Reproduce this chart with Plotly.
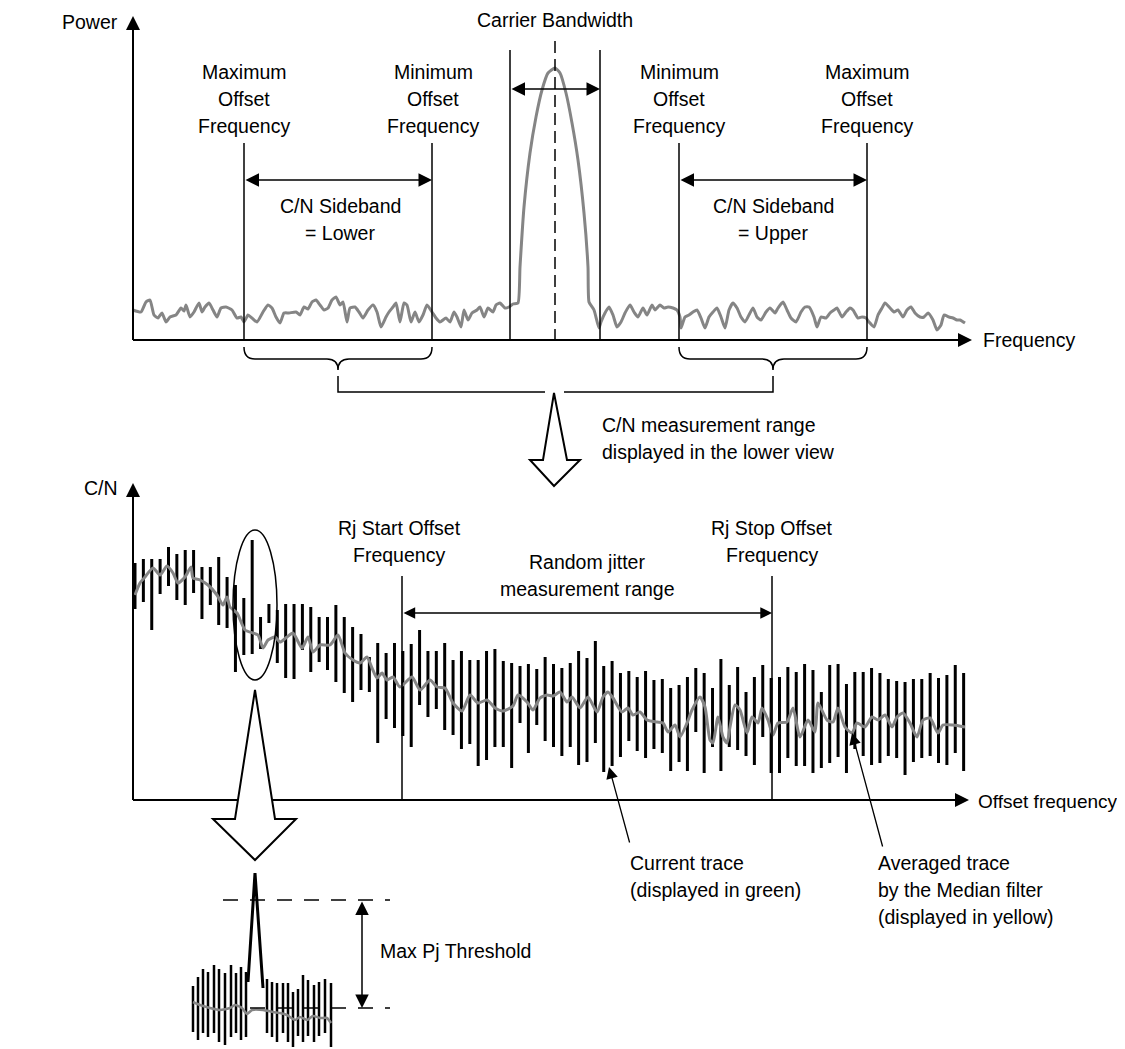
import plotly.graph_objects as go

# ---- data (x in canvas px, levels = height above each baseline) ----
# upper view: noise floor left of carrier, carrier peak, noise floor right of carrier
noise_lo_x = [133, 141, 146, 150, 154, 158, 162, 166, 170, 176, 181, 184, 186, 190, 194, 199, 202, 205, 209, 213,
              217, 221, 226, 232, 237, 241, 244,
              248, 252, 257, 263, 268, 272, 276, 280, 284, 289, 296, 300, 304, 308, 312, 316, 320, 324, 328, 332,
              336, 340, 343, 347, 350, 355, 359, 363, 368, 373, 377, 381, 386, 389, 393, 396, 400, 404, 407, 411,
              415, 419, 423, 427, 432,
              436, 440, 446, 450, 454, 457, 461, 464, 468, 472, 477, 480, 484, 488, 493, 496, 500, 505]
noise_lo_h = [30, 28, 38, 40, 25, 22, 27, 18, 23, 25, 32, 29, 35, 23, 28, 37, 28, 33, 37, 30,
              23, 32, 33, 30, 22, 23, 18,
              25, 22, 18, 28, 35, 32, 23, 17, 27, 27, 28, 25, 33, 31, 38, 40, 35, 30, 32, 40,
              43, 35, 38, 18, 32, 33, 28, 22, 30, 35, 28, 13, 23, 28, 33, 37, 18, 37, 35, 18,
              28, 18, 25, 35, 28,
              22, 18, 22, 18, 28, 23, 13, 30, 20, 27, 30, 33, 23, 32, 28, 35, 37, 32]
carrier_x = [509, 513, 518, 520, 524, 530, 536, 542, 548, 555, 560, 566, 572, 578, 584, 588, 589, 594, 599]
carrier_h = [33, 36, 37, 73, 133, 187, 223, 250, 267, 272, 267, 247, 217, 180, 127, 73, 38, 30, 12]
noise_hi_x = [601, 605, 609, 613, 617, 621, 625, 630, 634, 638, 643, 647, 652, 655, 660, 664, 668, 673, 677,
              680, 681, 685, 689, 693, 697, 701, 705, 709, 713, 717, 721, 725, 729, 733, 737, 741, 745, 750, 753,
              757, 761, 766, 770, 775, 778, 783, 787, 791, 796, 801, 805, 809, 814, 817, 821, 826, 830, 834, 837,
              842, 846, 850, 853, 858, 862, 866,
              869, 874, 878, 882, 885, 890, 894, 898, 903, 907, 911, 915, 920, 924, 928, 933, 937, 941, 944, 949,
              953, 957, 960, 965]
noise_hi_h = [18, 27, 33, 25, 13, 18, 27, 35, 28, 23, 32, 25, 35, 30, 35, 32, 33, 32, 30,
              23, 12, 23, 25, 28, 30, 22, 12, 23, 28, 32, 23, 12, 30, 37, 32, 23, 18, 27, 32,
              23, 20, 28, 32, 27, 32, 38, 30, 22, 18, 28, 33, 33, 23, 13, 23, 22, 27, 30, 32,
              23, 28, 32, 30, 22, 23, 22,
              18, 13, 25, 32, 37, 32, 28, 30, 23, 30, 33, 27, 23, 23, 27, 20, 10, 15, 25, 23,
              22, 20, 20, 17]

# lower view: current trace (vertical spans, 100 bins) and averaged trace
bar_top = [237, 241, 241, 241, 253, 246, 250, 250, 233, 233, 243, 223, 215, 202, 260, 183, 196, 190, 196, 196,
           196, 193, 183, 183, 195, 183, 173, 166, 143, 157, 147, 157, 149, 156, 170, 149, 149, 157, 140, 149,
           140, 140, 149, 151, 139, 137, 134, 136, 131, 143, 136, 132, 137, 149, 142, 159, 134, 139, 127, 129,
           123, 129, 120, 121, 112, 115, 123, 132, 127, 112, 141, 115, 133, 108, 123, 135, 122, 123, 133, 128,
           136, 130, 108, 135, 136, 116, 128, 128, 132, 127, 121, 119, 118, 121, 121, 127, 122, 125, 135, 127]
bar_bottom = [191, 198, 170, 206, 214, 200, 195, 207, 181, 195, 175, 172, 128, 145, 146, 151, 177, 137, 122, 121,
              150, 128, 138, 130, 118, 107, 98, 110, 108, 57, 81, 72, 64, 53, 95, 83, 91, 70, 65, 51,
              56, 34, 40, 53, 53, 32, 77, 47, 75, 59, 53, 44, 53, 35, 38, 57, 28, 34, 43, 59,
              49, 42, 51, 47, 29, 38, 29, 68, 27, 53, 29, 53, 50, 44, 35, 63, 27, 27, 42, 34,
              34, 27, 32, 37, 43, 27, 51, 44, 35, 37, 44, 42, 25, 38, 42, 44, 37, 35, 47, 29]
avg_x = [135, 140, 145, 153, 160, 167, 173, 178, 185, 191, 193, 200, 208, 217, 223, 227, 230, 237, 245, 253,
         258, 263, 268, 275, 280, 287, 293, 302, 308, 313, 320, 330, 338, 345, 353, 360, 367, 372, 377, 382,
         387, 393, 400, 412, 420, 430, 437, 445, 453, 462, 470, 478, 487, 495, 503, 513, 518, 527, 533, 540,
         547, 553, 560, 567, 572, 580, 588, 597, 603, 608, 613, 622, 628, 633, 640, 647, 657, 663, 668, 675,
         680, 687, 692, 700, 705, 710, 713, 718, 723, 727, 730, 735, 740, 747, 752, 758, 762, 768, 773, 778,
         787, 793, 800, 808, 815, 818, 827, 833, 838, 845, 852, 857, 865, 872, 878, 885, 892, 897, 903, 910,
         917, 923, 930, 938, 943, 953, 965]
avg_h = [205, 217, 223, 232, 225, 234, 227, 217, 223, 233, 222, 220, 215, 205, 195, 203, 193, 187, 170, 167,
         165, 152, 160, 163, 158, 163, 167, 152, 163, 148, 155, 155, 165, 147, 140, 137, 143, 132, 122, 127,
         120, 123, 113, 123, 110, 120, 113, 112, 97, 89, 105, 97, 100, 92, 89, 94, 105, 98, 90, 102,
         105, 104, 108, 98, 103, 92, 103, 88, 103, 108, 102, 88, 92, 85, 88, 80, 78, 77, 68, 75,
         63, 77, 90, 103, 93, 60, 57, 83, 63, 57, 73, 95, 90, 67, 83, 77, 92, 80, 65, 77,
         78, 92, 63, 80, 68, 97, 80, 78, 92, 73, 67, 77, 73, 83, 80, 85, 73, 83, 87, 77,
         63, 80, 82, 67, 75, 75, 73]

# periodic jitter inset
pj_x_left = [193, 198, 203, 208, 214, 219, 225, 231, 236, 241, 246]
pj_top_left = [64, 73, 81, 78, 85, 81, 77, 85, 77, 83, 78]
pj_bot_left = [18, 10, 17, 13, 17, 8, 5, 13, 17, 10, 13]
pj_x_right = [267, 272, 277, 283, 288, 293, 298, 303, 308, 314, 319, 325, 331]
pj_top_right = [71, 68, 67, 67, 67, 58, 61, 75, 70, 65, 68, 71, 67]
pj_bot_right = [17, 13, 8, 17, 8, 3, 14, 8, 14, 8, 14, 17, 3]
pj_peak_x = [248, 255, 263]
pj_peak_h = [68, 177, 62]
pj_avg_x = [193, 200, 210, 220, 230, 235, 242, 247, 252, 263, 273, 280, 287, 295, 300, 307, 313, 320, 327, 331]
pj_avg_h = [48, 45, 42, 40, 42, 45, 42, 36, 40, 40, 38, 37, 35, 30, 33, 30, 34, 32, 32, 27]

# baselines of the three drawings (canvas px, y grows downwards)
UP_BASE = 340
LOW_BASE = 800
PJ_BASE = 1050

FONT = "Liberation Sans, Arial, sans-serif"
FSIZE = 19.5
LINE_GAP = 27
GRAY = "#858585"

fig = go.Figure()

# upper view spectrum
up_x = noise_lo_x + carrier_x + noise_hi_x
up_h = noise_lo_h + carrier_h + noise_hi_h
fig.add_trace(go.Scatter(x=up_x, y=[UP_BASE - h for h in up_h], mode="lines",
                         line=dict(color=GRAY, width=3, shape="spline", smoothing=0.5)))

# lower view current trace as vertical spans
bar_x = [135 + 8.37 * i for i in range(len(bar_top))]
bx, by = [], []
for x, t, b in zip(bar_x, bar_top, bar_bottom):
    bx += [x, x, None]
    by += [LOW_BASE - t, LOW_BASE - b, None]
fig.add_trace(go.Scatter(x=bx, y=by, mode="lines", line=dict(color="black", width=3)))
fig.add_trace(go.Scatter(x=avg_x, y=[LOW_BASE - h for h in avg_h], mode="lines",
                         line=dict(color=GRAY, width=3, shape="spline", smoothing=0.6)))

# inset
px_, py_ = [], []
for xs, ts, bs in [(pj_x_left, pj_top_left, pj_bot_left), (pj_x_right, pj_top_right, pj_bot_right)]:
    for x, t, b in zip(xs, ts, bs):
        px_ += [x, x, None]
        py_ += [PJ_BASE - t, PJ_BASE - b, None]
fig.add_trace(go.Scatter(x=px_, y=py_, mode="lines", line=dict(color="black", width=2.5)))
fig.add_trace(go.Scatter(x=pj_peak_x, y=[PJ_BASE - h for h in pj_peak_h], mode="lines",
                         line=dict(color="black", width=3)))
fig.add_trace(go.Scatter(x=pj_avg_x, y=[PJ_BASE - h for h in pj_avg_h], mode="lines",
                         line=dict(color=GRAY, width=2.5, shape="spline", smoothing=0.5)))


def vline(x, y0, y1, width=1.5, dash=None):
    fig.add_shape(type="line", x0=x, x1=x, y0=y0, y1=y1,
                  line=dict(color="black", width=width, dash=dash))


def hline(y, x0, x1, width=1.5, dash=None):
    fig.add_shape(type="line", x0=x0, x1=x1, y0=y, y1=y,
                  line=dict(color="black", width=width, dash=dash))


def arrow(x, y, ax, ay, width=1.5, size=1.8, both=False):
    fig.add_annotation(x=x, y=y, ax=ax, ay=ay, xref="x", yref="y", axref="x", ayref="y",
                       text="", showarrow=True, arrowhead=2, arrowsize=size, arrowwidth=width,
                       arrowcolor="black", arrowside="end+start" if both else "end",
                       startarrowhead=2, startarrowsize=size, standoff=0, startstandoff=0)


def label(x, y, lines, anchor="center", size=FSIZE):
    # one annotation per text line so the line pitch matches the drawing
    if isinstance(lines, str):
        lines = [lines]
    for k, line in enumerate(lines):
        fig.add_annotation(x=x, y=y + k * LINE_GAP, xref="x", yref="y", text=line, showarrow=False,
                           xanchor=anchor, yanchor="middle",
                           font=dict(family=FONT, size=size, color="black"))


# axes
vline(133, UP_BASE, 30, width=2)
hline(UP_BASE, 133, 955, width=2)
vline(133, LOW_BASE, 497, width=2)
hline(LOW_BASE, 133, 952, width=2)
arrow(133, 16, 133, 40, width=2, size=1.4)
arrow(972, UP_BASE, 948, UP_BASE, width=2, size=1.4)
arrow(133, 483, 133, 507, width=2, size=1.4)
arrow(969, LOW_BASE, 945, LOW_BASE, width=2, size=1.4)

# upper markers
for x in [244, 432, 679, 867]:
    vline(x, 143, UP_BASE)
vline(510, 50, UP_BASE)
vline(600, 50, UP_BASE)
vline(555, 41, UP_BASE, dash="12px,6px")
arrow(432, 180, 244, 180, both=True)
arrow(867, 180, 679, 180, both=True)
arrow(600, 89, 510, 89, both=True)

# braces and connector
for a, b in [(244, 432), (679, 867)]:
    m = (a + b) / 2
    fig.add_shape(type="path", line=dict(color="black", width=1.5),
                  path=f"M {a} 347 Q {a} 359 {a + 11} 359 L {m - 11} 359 Q {m} 359 {m} 370 "
                       f"Q {m} 359 {m + 11} 359 L {b - 11} 359 Q {b} 359 {b} 347")
fig.add_shape(type="path", line=dict(color="black", width=1.5), path="M 338 376 L 338 392 L 545 392")
fig.add_shape(type="path", line=dict(color="black", width=1.5), path="M 564 392 L 773 392 L 773 376")

# hollow arrows
fig.add_shape(type="path", fillcolor="white", line=dict(color="black", width=2),
              path="M 554 393 L 567 460 L 580 460 L 554 486 L 530 460 L 543 460 Z")
fig.add_shape(type="path", fillcolor="white", line=dict(color="black", width=2),
              path="M 255 690 L 275 819 L 296 819 L 255 860 L 213 819 L 235 819 Z")

# lower markers
vline(402, 576, LOW_BASE)
vline(772, 576, LOW_BASE)
arrow(772, 613, 402, 613, width=1.3, both=True)
fig.add_shape(type="circle", x0=233, x1=277, y0=530, y1=680, line=dict(color="black", width=1.5))
arrow(609, 767, 630, 844, width=1.3)
arrow(852, 733, 883, 848, width=1.3)

# inset markers
hline(900, 223, 390, dash="15px,12px")
hline(1008, 250, 390, dash="15px,12px")
arrow(362, 1008, 362, 900, width=1.5, both=True)

# text
label(120, 22, "Power", "right")
label(555, 20, "Carrier Bandwidth")
label(244, 72, ["Maximum", "Offset", "Frequency"])
label(433, 72, ["Minimum", "Offset", "Frequency"])
label(679, 72, ["Minimum", "Offset", "Frequency"])
label(867, 72, ["Maximum", "Offset", "Frequency"])
label(7, 147, "Upper view", "left")
label(340, 206, ["C/N Sideband", "= Lower"])
label(773, 206, ["C/N Sideband", "= Upper"])
label(981, 340, "Frequency", "left")
label(600, 425, ["C/N measurement range", "displayed in the lower view"], "left")
label(120, 488, "C/N", "right")
label(7, 642, "Lower view", "left")
label(399, 528, ["Rj Start Offset", "Frequency"])
label(772, 528, ["Rj Stop Offset", "Frequency"])
label(587, 562, ["Random jitter", "measurement range"])
label(976, 801, "Offset frequency", "left", size=19)
label(5, 878, "Periodic jitter", "left")
label(628, 863, ["Current trace", "(displayed in green)"], "left")
label(876, 863, ["Averaged trace", "by the Median filter", "(displayed in yellow)"], "left")
label(378, 951, "Max Pj Threshold", "left")

# the page body adds an 8px margin, so the canvas range starts at 8 to keep px coordinates
fig.update_layout(
    width=1117, height=1041,
    margin=dict(l=0, r=0, t=0, b=0),
    paper_bgcolor="white", plot_bgcolor="white",
    showlegend=False,
    xaxis=dict(range=[8, 1125], visible=False, fixedrange=True),
    yaxis=dict(range=[1049, 8], visible=False, fixedrange=True),
)

fig.write_html("out.html")
